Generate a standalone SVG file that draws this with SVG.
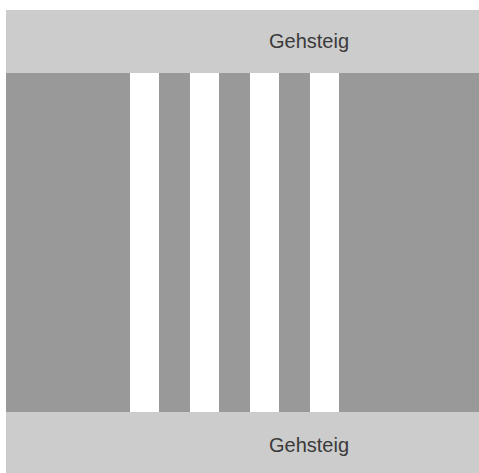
<svg xmlns="http://www.w3.org/2000/svg" width="479" height="473" viewBox="0 0 479 473">
  <style>
    .walk { fill: #cccccc; }
    .road { fill: #999999; }
    .stripe { fill: #ffffff; }
    .label { font-family: "Liberation Sans", Arial, sans-serif; font-size: 20px; fill: #3a3a3a; }
  </style>
  <rect width="479" height="473" fill="#ffffff"/>
  <!-- sidewalk, top -->
  <g id="sidewalk-top">
    <rect class="walk" x="6" y="10" width="473" height="63"/>
    <text class="label" x="269" y="47.5">Gehsteig</text>
  </g>
  <!-- roadway -->
  <g id="road">
    <rect class="road" x="6" y="73" width="473" height="339"/>
  </g>
  <!-- zebra crossing -->
  <g id="crossing">
    <rect class="stripe" x="130" y="73" width="29" height="339"/>
    <rect class="stripe" x="190" y="73" width="29" height="339"/>
    <rect class="stripe" x="250" y="73" width="29" height="339"/>
    <rect class="stripe" x="310" y="73" width="29" height="339"/>
  </g>
  <!-- sidewalk, bottom -->
  <g id="sidewalk-bottom">
    <rect class="walk" x="6" y="412" width="473" height="61"/>
    <text class="label" x="269" y="452">Gehsteig</text>
  </g>
</svg>
